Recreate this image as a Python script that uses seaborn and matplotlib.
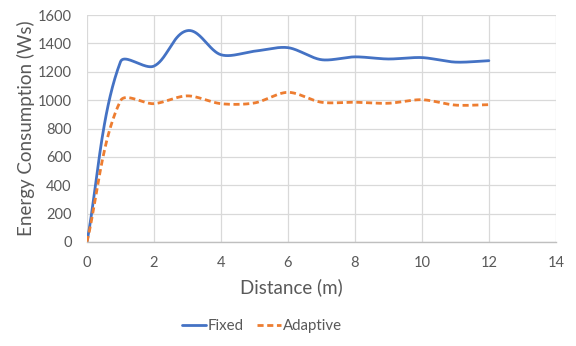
import numpy as np
import pandas as pd
import matplotlib
matplotlib.use("Agg")
import matplotlib.pyplot as plt
import seaborn as sns
from matplotlib.lines import Line2D

distance = [0, 1, 2, 3, 4, 5, 6, 7, 8, 9, 10, 11, 12]
fixed = [0, 1270, 1240, 1490, 1320, 1345, 1370, 1285, 1305, 1290, 1300, 1268, 1278]
adaptive = [0, 995, 975, 1030, 975, 980, 1055, 985, 985, 978, 1003, 965, 968]
series_names = ["Fixed", "Adaptive"]
colors = ["#4472C4", "#ED7D31"]

# screen scale (pixels per data unit) used for Excel-like smoothing
SX = 469 / 14.0
SY = 227 / 1600.0


def smooth(x, y, n=40, k=0.3):
    """Excel-like smoothed line: Bezier with tangent lengths proportional to segment length."""
    P = np.column_stack([np.asarray(x, float) * SX, np.asarray(y, float) * SY])
    out = [P[0]]
    m = len(P)
    for i in range(m - 1):
        p0 = P[i - 1] if i > 0 else P[i]
        p1 = P[i]
        p2 = P[i + 1]
        p3 = P[i + 2] if i + 2 < m else P[i + 1]
        L = np.linalg.norm(p2 - p1)
        d1 = p2 - p0
        d1 = d1 / (np.linalg.norm(d1) or 1)
        d2 = p3 - p1
        d2 = d2 / (np.linalg.norm(d2) or 1)
        c1 = p1 + d1 * L * k
        c2 = p2 - d2 * L * k
        t = np.linspace(0, 1, n)[1:, None]
        pts = ((1 - t) ** 3) * p1 + 3 * ((1 - t) ** 2) * t * c1 + 3 * (1 - t) * t ** 2 * c2 + t ** 3 * p2
        out.extend(pts)
    out = np.array(out)
    return out[:, 0] / SX, out[:, 1] / SY


frames = []
for name, vals in zip(series_names, [fixed, adaptive]):
    sx, sy = smooth(distance, vals)
    frames.append(pd.DataFrame({"Distance": sx, "Energy": sy, "Series": name}))
df = pd.concat(frames, ignore_index=True)

sns.set_theme(style="white")
plt.rcParams["font.family"] = ["Lato", "DejaVu Sans"]

fig = plt.figure(figsize=(5.76, 3.46), dpi=100)
ax = fig.add_axes([0.151, 0.3006, 0.814, 0.656])

DASH = (2.2, 1.3)
sns.lineplot(data=df, x="Distance", y="Energy", hue="Series", style="Series",
             palette=colors, dashes={"Fixed": "", "Adaptive": DASH},
             sort=False, estimator=None, linewidth=2.0, ax=ax,
             legend=False)

ax.set_xlim(0, 14)
ax.set_ylim(0, 1600)
ax.set_xticks(range(0, 15, 2))
ax.set_yticks(range(0, 1601, 200))
ax.grid(True, color="#D9D9D9", linewidth=0.9)
ax.set_axisbelow(True)
for s in ["top", "right", "left"]:
    ax.spines[s].set_visible(False)
ax.spines["bottom"].set_color("#BFBFBF")
ax.spines["bottom"].set_linewidth(1.0)
ax.tick_params(axis="both", length=0, labelsize=10.5, colors="#595959")
ax.tick_params(axis="x", pad=10)
ax.tick_params(axis="y", pad=11)
ax.set_xlabel("Distance (m)", fontsize=13.5, color="#595959", labelpad=7)
ax.xaxis.set_label_coords(0.435, -0.2)
ax.xaxis.label.set_verticalalignment("center")
ax.set_ylabel("Energy Consumption (Ws)", fontsize=13.5, color="#595959", labelpad=2)

handles = [Line2D([], [], color=colors[0], lw=2),
           Line2D([], [], color=colors[1], lw=2, dashes=DASH)]
fig.legend(handles, series_names, loc="center", bbox_to_anchor=(0.455, 0.058), ncol=2,
           frameon=False, fontsize=10.8, handlelength=1.6, handletextpad=0.1,
           columnspacing=0.9, labelcolor="#595959")

fig.savefig("out.png", dpi=100)
